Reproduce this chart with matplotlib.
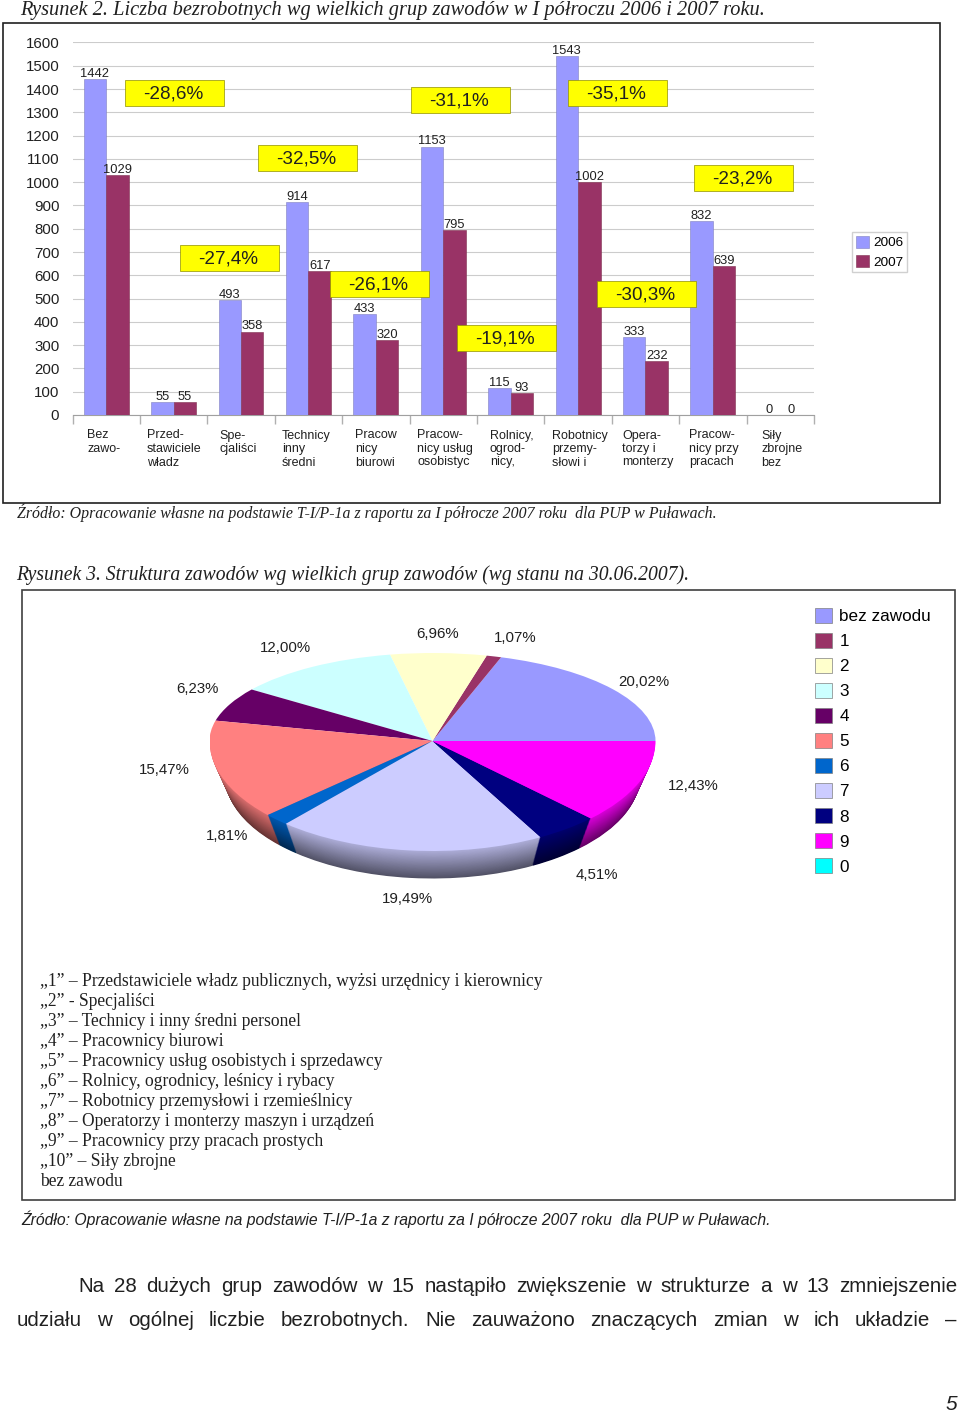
import matplotlib
matplotlib.use("Agg")
import matplotlib.pyplot as plt
from matplotlib.patches import Rectangle, Patch
from matplotlib.colors import to_rgb
import numpy as np

# ---- data ----
categories = ["Bez\nzawo-", "Przed-\nstawiciele\nwładz", "Spe-\ncjaliści", "Technicy\ninny\nśredni",
              "Pracow\nnicy\nbiurowi", "Pracow-\nnicy usług\nosobistyc", "Rolnicy,\nogrod-\nnicy,",
              "Robotnicy\nprzemy-\nsłowi i", "Opera-\ntorzy i\nmonterzy", "Pracow-\nnicy przy\npracach",
              "Siły\nzbrojne\nbez"]
category_x = [87, 147, 219, 282, 355, 417, 490, 552, 622, 689, 761]
values_2006 = [1442, 55, 493, 914, 433, 1153, 115, 1543, 333, 832, 0]
values_2007 = [1029, 55, 358, 617, 320, 795, 93, 1002, 232, 639, 0]
change_labels = ["-28,6%", "-27,4%", "-32,5%", "-26,1%", "-31,1%", "-19,1%", "-35,1%", "-30,3%", "-23,2%"]
change_centers = [174, 229, 307, 379, 460, 506, 617, 646, 743]
change_rows = [93, 258, 158, 284, 100, 338, 93, 294, 178]
year_labels = ["2006", "2007"]
y_ticks = list(range(0, 1700, 100))

pie_labels = ["bez zawodu", "1", "2", "3", "4", "5", "6", "7", "8", "9", "0"]
pie_values = [20.02, 1.07, 6.96, 12.00, 6.23, 15.47, 1.81, 19.49, 4.51, 12.43, 0.0]
pie_texts = ["20,02%", "1,07%", "6,96%", "12,00%", "6,23%", "15,47%", "1,81%", "19,49%", "4,51%", "12,43%"]
pie_text_x = [644, 515, 438, 285, 197, 164, 227, 407, 597, 693]
pie_text_y = [682, 638, 634, 648, 689, 770, 836, 899, 875, 786]
pie_colors = ["#9999FF", "#993366", "#FFFFCC", "#CCFFFF", "#660066", "#FF8080", "#0066CC", "#CCCCFF", "#000080", "#FF00FF", "#00FFFF"]

key_lines = ["„1” – Przedstawiciele władz publicznych, wyżsi urzędnicy i kierownicy",
             "„2” - Specjaliści",
             "„3” – Technicy i inny średni personel",
             "„4” – Pracownicy biurowi",
             "„5” – Pracownicy usług osobistych i sprzedawcy",
             "„6” – Rolnicy, ogrodnicy, leśnicy i rybacy",
             "„7” – Robotnicy przemysłowi i rzemieślnicy",
             "„8” – Operatorzy i monterzy maszyn i urządzeń",
             "„9” – Pracownicy przy pracach prostych",
             "„10” – Siły zbrojne",
             "bez zawodu"]
body_1 = "Na 28 dużych grup zawodów w 15 nastąpiło zwiększenie w strukturze a w 13 zmniejszenie"
body_2 = "udziału w ogólnej liczbie bezrobotnych. Nie zauważono znaczących zmian w ich układzie –"

W, H = 960, 1414
fig = plt.figure(figsize=(W / 100, H / 100), dpi=100, facecolor="white")
SANS = "Liberation Sans"
SERIF = "Liberation Serif"


def box(l, t, r, b):
    return [l / W, 1 - b / H, (r - l) / W, (b - t) / H]


# page overlay in pixel coordinates
page = fig.add_axes([0, 0, 1, 1], zorder=0)
page.set_xlim(0, W)
page.set_ylim(H, 0)
page.axis("off")
page.add_patch(Rectangle((3, 23), 937, 480, fc="white", ec="#202020", lw=1.2))
page.add_patch(Rectangle((22, 590), 933, 610, fc="white", ec="#404040", lw=1.2))

page.text(20, 10, "Rysunek 2. Liczba bezrobotnych wg wielkich grup zawodów w I półroczu 2006 i 2007 roku.",
          family=SERIF, style="italic", fontsize=14.7, va="center", color="#202020")
page.text(17, 513, "Źródło: Opracowanie własne na podstawie T-I/P-1a z raportu za I półrocze 2007 roku  dla PUP w Puławach.",
          family=SERIF, style="italic", fontsize=11.4, va="center", color="#202020")
page.text(16, 575, "Rysunek 3. Struktura zawodów wg wielkich grup zawodów (wg stanu na 30.06.2007).",
          family=SERIF, style="italic", fontsize=14.1, va="center", color="#202020")
page.text(21, 1219, "Źródło: Opracowanie własne na podstawie T-I/P-1a z raportu za I półrocze 2007 roku  dla PUP w Puławach.",
          family=SANS, style="italic", fontsize=11.3, va="center", color="#202020")
for i, line in enumerate(key_lines):
    page.text(40, 982 + 19.95 * i, line, family=SERIF, fontsize=12.65, va="center", color="#202020")
page.text(951, 1405, "5", family=SANS, style="italic", fontsize=15, ha="center", va="center", color="#202020")


def justify(text, x0, x1, y):
    r = fig.canvas.get_renderer()
    arts = [page.text(0, y, w, family=SANS, fontsize=14.8, va="center", color="#202020") for w in text.split()]
    widths = [a.get_window_extent(r).width for a in arts]
    gap = (x1 - x0 - sum(widths)) / (len(arts) - 1)
    x = x0
    for a, w in zip(arts, widths):
        a.set_x(x)
        x += w + gap


justify(body_1, 78, 957, 1286)
justify(body_2, 17, 957, 1320)

# ---- bar chart ----
ax = fig.add_axes(box(72.5, 42.5, 814, 415), zorder=2)
ax.patch.set_alpha(0)
ax.set_xlim(-0.5, 10.5)
ax.set_ylim(0, 1600)
x = np.arange(len(categories))
w = 1 / 3
b1 = ax.bar(x - w / 2, values_2006, w, color="#9999FF", edgecolor="#8080C0", lw=0.4, zorder=3, label=year_labels[0])
b2 = ax.bar(x + w / 2, values_2007, w, color="#993366", edgecolor="#803050", lw=0.4, zorder=3, label=year_labels[1])
ax.bar_label(b1, padding=-0.6, fontsize=9.3, family=SANS, color="#202020")
ax.bar_label(b2, padding=-0.6, fontsize=9.3, family=SANS, color="#202020")
for s in ("top", "right", "left"):
    ax.spines[s].set_visible(False)
ax.spines["bottom"].set_color("#a0a0a0")
ax.set_yticks(y_ticks)
ax.set_yticklabels([str(v) for v in y_ticks], family=SANS, fontsize=10.8, color="#202020")
ax.tick_params(axis="y", length=0, pad=9.5)
ax.set_xticks(x - 0.5)
ax.set_xticks([10.5], minor=True)
ax.set_xticklabels([""] * len(x))
ax.tick_params(axis="x", which="both", length=6.5, color="#b0b0b0", width=1)
ax.grid(axis="y", color="#cccccc", lw=0.8, zorder=0)
ax.set_axisbelow(True)
for cat_x, c in zip(category_x, categories):
    for j, part in enumerate(c.split("\n")):
        page.text(cat_x, 435.5 + 13.5 * j, part, family=SANS, fontsize=9, va="center",
                  color="#202020", zorder=5)

overlay = fig.add_axes([0, 0, 1, 1], zorder=5)
overlay.set_xlim(0, W)
overlay.set_ylim(H, 0)
overlay.axis("off")
overlay.patch.set_alpha(0)
for t, cx_, cy_ in zip(change_labels, change_centers, change_rows):
    overlay.add_patch(Rectangle((cx_ - 49.5, cy_ - 13), 99, 26, fc="#FFFF00", ec="#909000", lw=0.5, zorder=6))
    overlay.text(cx_ - 1, cy_ + 1, t, family=SANS, fontsize=13.6, ha="center", va="center", color="#202020", zorder=7)

fig.legend(handles=[b1, b2], labels=year_labels, loc="upper left",
           bbox_to_anchor=(852 / W, 1 - 232 / H), bbox_transform=fig.transFigure,
           prop={"family": SANS, "size": 9.7}, fancybox=False, edgecolor="#d0d0d0",
           framealpha=1, borderpad=0.28, handlelength=0.98, handleheight=0.98, handletextpad=0.3,
           labelspacing=0.42, borderaxespad=0)

# ---- 3-D looking pie: lower half has a larger radius, as the perspective does ----
cx, cy, rx, top_ry, low_ry = 432.5, 741, 223, 88, 110
depth_extent = 0.32
ax_top = fig.add_axes(box(cx - rx, cy - top_ry, cx + rx, cy), zorder=3)
ax_low = fig.add_axes(box(cx - rx, cy, cx + rx, cy + low_ry * 1.4), zorder=2)


def shade(color, k):
    return tuple(min(1, c * k) for c in to_rgb(color))


vals = pie_values[:-1]
cols = pie_colors[:-1]
n_layers = 36
wp = {"lw": 0, "clip_on": True}
for i in range(n_layers, 0, -1):
    f = i / n_layers
    r = 1 - 0.07 * f
    k = 0.85 - 0.45 * f
    ax_low.pie(vals, colors=[shade(c, k) for c in cols], startangle=0, radius=r,
               center=(0, -depth_extent * f), wedgeprops=wp)
ax_low.pie(vals, colors=cols, startangle=0, radius=1, wedgeprops=wp)
ax_top.pie(vals, colors=cols, startangle=0, radius=1, wedgeprops=wp)
ax_low.set_aspect("auto")
ax_top.set_aspect("auto")
ax_low.set_xlim(-1, 1)
ax_low.set_ylim(-1.4, 0)
ax_top.set_xlim(-1, 1)
ax_top.set_ylim(0, 1)

for t, tx, ty in zip(pie_texts, pie_text_x, pie_text_y):
    page.text(tx, ty, t, family=SANS, fontsize=10.8, ha="center", va="center", color="#202020")

handles = [Patch(fc=c, ec="#808080", lw=0.5) for c in pie_colors]
fig.legend(handles=handles, labels=pie_labels, loc="upper left",
           bbox_to_anchor=(813 / W, 1 - 606 / H), bbox_transform=fig.transFigure,
           prop={"family": SANS, "size": 12.3}, frameon=False, borderpad=0.1,
           handlelength=1.0, handleheight=1.0, handletextpad=0.45, labelspacing=0.5, borderaxespad=0)

fig.savefig("out.png", dpi=100)
